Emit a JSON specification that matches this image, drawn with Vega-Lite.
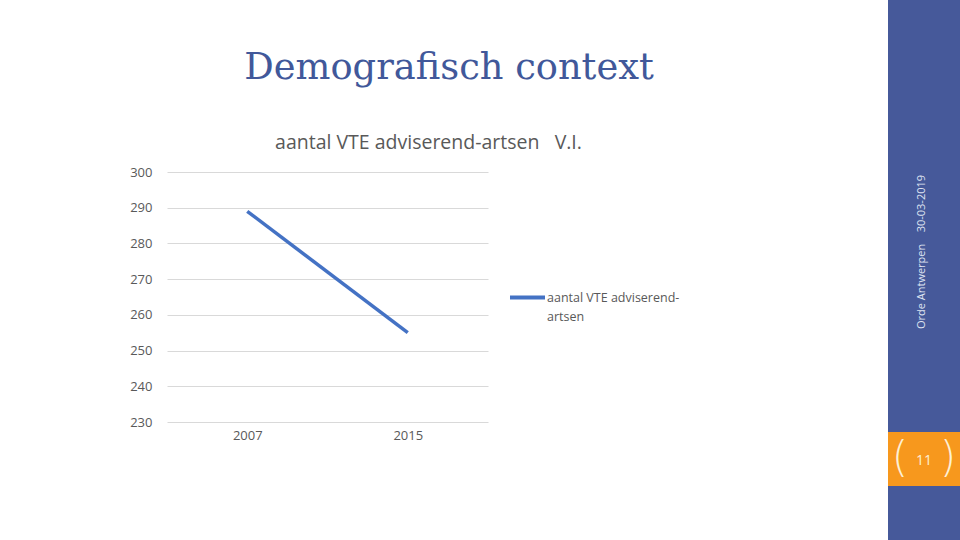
{
  "$schema": "https://vega.github.io/schema/vega-lite/v6.json",
  "background": "#ffffff",
  "padding": {"left": 129, "top": 0, "right": 0, "bottom": 0},
  "spacing": 157,
  "config": {
    "font": "Open Sans",
    "view": {"stroke": null},
    "concat": {"spacing": 0}
  },
  "hconcat": [
    {
      "spacing": 12,
      "vconcat": [
        {
          "width": 564,
          "height": 120,
          "data": {"values": [{"t": "Demografisch context"}]},
          "mark": {"type": "text", "font": "DejaVu Serif", "fontSize": 36.8, "color": "#41589A", "align": "center", "baseline": "middle", "dy": 8},
          "encoding": {"text": {"field": "t", "type": "nominal"}}
        },
        {
          "width": 321,
          "height": 250,
          "title": {
            "text": "aantal VTE adviserend-artsen\u00a0\u00a0\u00a0V.I.",
            "font": "Open Sans",
            "fontSize": 19.5,
            "fontWeight": "normal",
            "color": "#595959",
            "anchor": "middle",
            "offset": 13,
            "dx": 101
          },
          "data": {"values": [
            {"year": "2007", "value": 289, "series": "aantal VTE adviserend-artsen"},
            {"year": "2015", "value": 255, "series": "aantal VTE adviserend-artsen"}
          ]},
          "mark": {"type": "line", "strokeWidth": 3.5, "strokeCap": "butt"},
          "encoding": {
            "x": {
              "field": "year", "type": "ordinal",
              "scale": {"type": "point", "padding": 0.5},
              "axis": {"title": null, "labelAngle": 0, "domain": false, "ticks": false, "grid": false, "labelFontSize": 13, "labelColor": "#595959", "labelPadding": 7}
            },
            "y": {
              "field": "value", "type": "quantitative",
              "scale": {"domain": [230, 300], "nice": false, "zero": false},
              "axis": {"title": null, "values": [230, 240, 250, 260, 270, 280, 290, 300], "domain": false, "ticks": false, "grid": true, "gridColor": "#d9d9d9", "gridWidth": 1, "labelFontSize": 13, "labelColor": "#595959", "labelPadding": 15}
            },
            "color": {
              "field": "series", "type": "nominal",
              "scale": {"range": ["#4472C4"]},
              "legend": {
                "title": null,
                "orient": "none",
                "legendX": 341,
                "legendY": 278,
                "symbolType": "stroke",
                "symbolStrokeWidth": 4,
                "symbolSize": 1225,
                "labelFontSize": 12.5,
                "labelColor": "#595959",
                "labelOffset": 0,
                "labelLimit": 300,
                "labelBaseline": "top",
                "labelExpr": "['aantal VTE adviserend-', 'artsen']",
                "encoding": {"labels": {"dy": {"value": -5.5}, "lineHeight": {"value": 19}}}
              }
            }
          }
        }
      ]
    },
    {
      "spacing": 0,
      "vconcat": [
        {
          "width": 72,
          "height": 432,
          "view": {"fill": "#46599A", "stroke": null},
          "data": {"values": [{"t": "Orde Antwerpen\u00a0\u00a0\u00a0\u00a030-03-2019"}]},
          "mark": {"type": "text", "angle": 270, "fontSize": 11, "color": "#dfe4f2", "align": "center", "baseline": "middle", "dx": -36, "dy": -2},
          "encoding": {"text": {"field": "t", "type": "nominal"}}
        },
        {
          "width": 72,
          "height": 54,
          "view": {"fill": "#F7981D", "stroke": null},
          "data": {"values": [{"t": "11", "l": "(", "r": ")"}]},
          "layer": [
            {"mark": {"type": "text", "fontSize": 14, "color": "#FDF0D5", "align": "center", "baseline": "middle", "dy": 2}, "encoding": {"text": {"field": "t", "type": "nominal"}}},
            {"mark": {"type": "text", "fontSize": 42, "font": "DejaVu Sans", "fontWeight": 300, "color": "#FDF0D5", "align": "center", "baseline": "middle", "dx": -24, "dy": 0}, "encoding": {"text": {"field": "l", "type": "nominal"}}},
            {"mark": {"type": "text", "fontSize": 42, "font": "DejaVu Sans", "fontWeight": 300, "color": "#FDF0D5", "align": "center", "baseline": "middle", "dx": 24, "dy": 0}, "encoding": {"text": {"field": "r", "type": "nominal"}}}
          ]
        },
        {
          "width": 72,
          "height": 54,
          "view": {"fill": "#46599A", "stroke": null},
          "data": {"values": [{"t": ""}]},
          "mark": {"type": "text"},
          "encoding": {"text": {"field": "t", "type": "nominal"}}
        }
      ]
    }
  ]
}
